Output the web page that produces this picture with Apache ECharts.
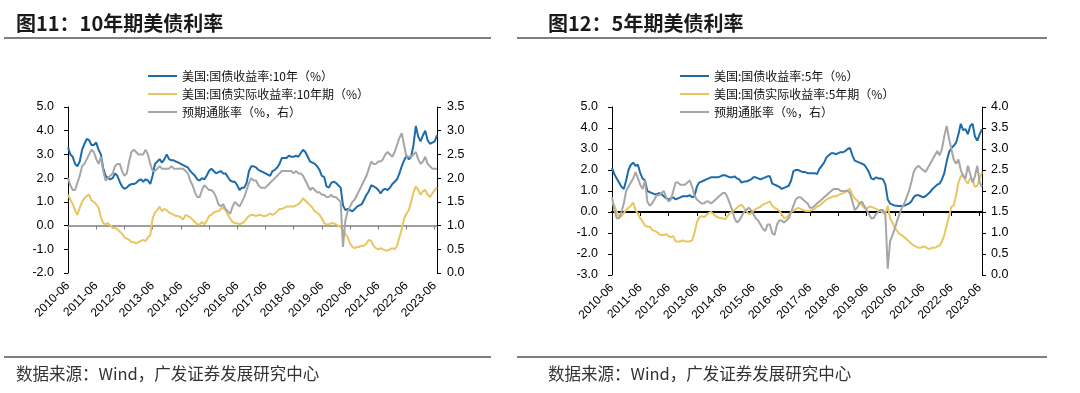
<!DOCTYPE html>
<html><head><meta charset="utf-8">
<script src="https://cdn.jsdelivr.net/npm/echarts@6/dist/echarts.min.js"></script>
<style>html,body{margin:0;padding:0;background:#fff}#c{width:1080px;height:393px}</style>
</head><body><div id="c"></div>
<script>
// monthly categories 2010-06 .. 2023-07
const months = [];
for (let y = 2010, m = 6; !(y === 2023 && m === 8);) { months.push(y + '-' + (m < 10 ? '0' + m : m)); m++; if (m > 12) { m = 1; y++; } }
const xTickLabels = ['2010-06','2011-06','2012-06','2013-06','2014-06','2015-06','2016-06','2017-06','2018-06','2019-06','2020-06','2021-06','2022-06','2023-06'];

// Left chart: 10Y
const us10y = [
3.3,3.0,2.9,2.6,2.5,2.7,3.2,3.45,3.65,3.6,
3.4,3.4,3.5,3.2,3.0,2.4,2.1,2.0,1.95,2.0,
2.2,2.1,1.85,1.65,1.55,1.6,1.7,1.75,1.75,1.8,
1.9,1.95,1.85,1.95,1.9,1.75,2.1,2.6,2.7,2.8,
2.65,2.8,3.0,2.8,2.75,2.75,2.7,2.65,2.6,2.55,
2.5,2.45,2.3,2.2,2.1,1.95,1.9,2.0,1.95,2.1,
2.3,2.4,2.3,2.2,2.25,2.3,2.2,2.2,2.05,1.9,
1.85,1.85,1.7,1.5,1.6,1.6,1.8,2.3,2.5,2.5,
2.45,2.35,2.3,2.25,2.2,2.15,2.1,2.3,2.35,2.45,
2.6,2.85,2.85,2.85,2.95,2.9,2.9,2.95,2.9,3.05,
3.2,3.1,2.9,2.7,2.65,2.6,2.5,2.35,2.1,2.05,
1.65,1.6,1.8,1.85,1.8,1.7,1.6,0.85,0.65,0.7,
0.65,0.6,0.7,0.8,0.85,0.9,1.1,1.3,1.45,1.7,
1.65,1.6,1.5,1.35,1.5,1.55,1.5,1.6,1.75,1.85,
1.95,2.2,2.5,2.75,2.95,2.8,2.9,3.4,4.2,3.75,
3.55,3.8,4.0,3.6,3.45,3.5,3.55,3.8];
const tips10y = [
1.3,1.1,0.9,0.65,0.45,0.75,1.0,1.15,1.25,1.3,
1.05,1.0,0.9,0.75,0.35,0.1,0.05,0.1,0.0,-0.1,
-0.1,-0.15,-0.25,-0.35,-0.5,-0.55,-0.6,-0.7,-0.7,-0.75,
-0.7,-0.65,-0.6,-0.65,-0.5,-0.4,0.3,0.55,0.65,0.8,
0.6,0.7,0.65,0.55,0.5,0.45,0.4,0.4,0.35,0.25,
0.45,0.4,0.35,0.25,0.15,0.05,0.05,0.15,0.05,0.2,
0.4,0.45,0.55,0.6,0.6,0.7,0.75,0.65,0.45,0.3,
0.15,0.1,0.1,0.05,0.1,0.15,0.3,0.4,0.45,0.45,
0.4,0.45,0.45,0.4,0.4,0.45,0.5,0.45,0.5,0.6,
0.7,0.7,0.75,0.8,0.8,0.8,0.8,0.85,0.9,1.0,
1.15,1.05,0.95,0.85,0.75,0.6,0.55,0.45,0.3,0.1,
0.05,0.05,0.1,0.1,0.05,0.0,-0.05,-0.2,-0.35,-0.5,
-0.75,-0.9,-0.95,-0.9,-0.9,-0.85,-0.85,-0.75,-0.6,-0.65,
-0.85,-0.95,-1.0,-0.95,-1.0,-1.05,-1.05,-1.0,-0.95,-1.0,
-0.85,-0.5,-0.15,0.3,0.5,0.65,1.0,1.4,1.65,1.5,
1.3,1.45,1.5,1.3,1.2,1.35,1.5,1.6];
const bei10y = [
2.0,1.85,1.75,1.75,1.9,2.05,2.25,2.3,2.4,2.5,
2.6,2.55,2.4,2.3,2.45,2.15,1.95,2.0,2.05,2.1,
2.25,2.3,2.3,2.15,2.05,2.1,2.35,2.55,2.6,2.55,
2.5,2.5,2.5,2.6,2.5,2.3,2.15,2.15,2.2,2.25,
2.2,2.2,2.2,2.2,2.25,2.2,2.2,2.2,2.2,2.2,
2.15,2.1,1.95,1.85,1.7,1.6,1.6,1.75,1.85,1.8,
1.75,1.75,1.7,1.6,1.45,1.4,1.45,1.35,1.3,1.25,
1.4,1.5,1.45,1.4,1.5,1.6,1.75,1.9,2.0,1.95,
1.95,1.85,1.8,1.8,1.8,1.85,1.9,1.95,2.0,2.05,
2.1,2.15,2.15,2.15,2.15,2.15,2.1,2.15,2.1,2.1,
2.05,1.95,1.85,1.75,1.8,1.75,1.7,1.7,1.65,1.65,
1.6,1.6,1.65,1.6,1.6,1.55,1.5,0.55,1.1,1.3,
1.4,1.5,1.55,1.65,1.75,1.85,1.95,2.05,2.2,2.35,
2.3,2.3,2.35,2.35,2.4,2.5,2.55,2.5,2.45,2.55,
2.7,2.85,2.95,2.7,2.45,2.45,2.45,2.5,2.55,2.4,
2.3,2.35,2.45,2.3,2.25,2.2,2.2,2.2];

// Right chart: 5Y
const us5y = [
2.1,1.8,1.6,1.4,1.2,1.1,1.5,2.0,2.25,2.35,
2.2,2.25,1.85,1.6,1.5,1.0,0.95,0.9,0.85,0.85,
0.9,0.85,0.75,0.65,0.6,0.65,0.7,0.6,0.65,0.7,
0.75,0.75,0.75,0.8,0.7,0.75,1.2,1.4,1.45,1.5,
1.55,1.6,1.65,1.65,1.65,1.65,1.7,1.75,1.75,1.7,
1.65,1.65,1.7,1.6,1.55,1.4,1.45,1.45,1.5,1.55,
1.65,1.65,1.6,1.55,1.6,1.65,1.7,1.7,1.35,1.3,
1.25,1.2,1.1,1.15,1.2,1.25,1.5,1.95,2.0,2.0,
1.95,1.9,1.9,1.85,1.85,1.85,1.85,1.8,2.05,2.2,
2.35,2.6,2.7,2.8,2.8,2.75,2.8,2.85,2.85,2.9,
3.0,3.05,2.7,2.45,2.4,2.35,2.3,2.25,2.1,1.9,
1.6,1.55,1.65,1.6,1.6,1.55,1.3,0.6,0.4,0.35,
0.3,0.3,0.28,0.28,0.3,0.35,0.4,0.5,0.7,0.8,
0.8,0.75,0.7,0.75,0.85,0.95,1.1,1.2,1.3,1.35,
1.55,1.85,2.4,2.85,3.05,3.15,3.3,3.7,4.2,3.9,
3.95,3.7,4.1,4.2,3.6,3.4,3.7,3.95];
const tips5y = [
0.45,0.3,0.0,-0.25,-0.2,-0.05,0.1,0.2,0.3,0.45,
0.1,-0.1,-0.3,-0.45,-0.65,-0.7,-0.7,-0.85,-0.9,-0.95,
-1.05,-1.1,-1.1,-1.05,-1.15,-1.2,-1.15,-1.4,-1.4,-1.4,
-1.35,-1.4,-1.4,-1.4,-1.35,-1.0,-0.5,-0.25,-0.2,-0.25,
-0.15,-0.05,0.0,-0.1,-0.2,-0.25,-0.3,-0.3,-0.35,-0.2,
-0.05,0.0,0.1,0.2,0.3,0.35,0.2,0.05,-0.1,-0.05,
0.05,0.15,0.2,0.25,0.35,0.4,0.45,0.5,0.3,0.2,
0.15,0.05,-0.1,-0.3,-0.25,-0.15,0.0,0.05,0.15,0.2,
0.15,0.1,0.05,0.05,0.05,0.1,0.15,0.25,0.3,0.4,
0.5,0.6,0.65,0.7,0.75,0.75,0.8,0.85,0.9,0.95,
1.05,1.1,0.8,0.65,0.55,0.4,0.35,0.2,0.15,0.25,
0.25,0.2,0.15,0.1,0.05,-0.05,-0.1,0.3,-0.3,-0.5,
-0.75,-0.9,-1.05,-1.1,-1.2,-1.3,-1.4,-1.5,-1.6,-1.65,
-1.7,-1.7,-1.65,-1.65,-1.75,-1.75,-1.7,-1.7,-1.65,-1.6,
-1.4,-1.1,-0.65,-0.2,0.25,0.3,0.8,1.4,1.7,1.8,
1.5,1.35,1.6,1.5,1.2,1.25,1.6,1.9];
const bei5y = [
1.85,1.55,1.35,1.35,1.5,1.7,2.0,2.1,2.2,2.3,
2.45,2.3,2.15,2.05,2.25,1.75,1.65,1.7,1.8,1.9,
1.9,1.95,2.0,1.85,1.75,1.8,2.0,2.2,2.2,2.15,
2.15,2.15,2.2,2.25,2.1,1.9,1.8,1.75,1.7,1.7,
1.75,1.75,1.7,1.75,1.8,1.85,1.9,1.95,1.95,1.85,
1.7,1.55,1.35,1.25,1.3,1.4,1.5,1.55,1.6,1.55,
1.45,1.35,1.3,1.2,1.1,1.05,1.2,1.2,1.0,0.95,
1.2,1.3,1.3,1.25,1.3,1.35,1.5,1.65,1.8,1.85,
1.85,1.8,1.75,1.7,1.6,1.6,1.65,1.7,1.75,1.8,
1.85,1.9,1.95,2.0,2.05,2.05,2.05,2.0,2.0,2.0,
2.0,1.95,1.75,1.55,1.6,1.7,1.75,1.65,1.55,1.45,
1.35,1.35,1.45,1.5,1.55,1.55,1.45,0.15,0.8,0.95,
1.1,1.3,1.45,1.6,1.7,1.85,2.0,2.2,2.45,2.55,
2.6,2.55,2.5,2.45,2.55,2.65,2.75,2.85,2.95,2.85,
3.0,3.3,3.55,3.25,3.0,2.75,2.65,2.75,2.5,2.35,
2.3,2.6,2.4,2.2,2.35,2.6,2.2,2.1];

const names10 = ['美国:国债收益率:10年（%）', '美国:国债实际收益率:10年期（%）', '预期通胀率（%，右）'];
const names5 = ['美国:国债收益率:5年（%）', '美国:国债实际收益率:5年期（%）', '预期通胀率（%，右）'];

const BLUE = '#1F6BAA', YELLOW = '#E9C563', GRAY = '#A6A6A6';
const NUM = '"Liberation Sans", Arial, sans-serif';
const CJK = '"Noto Sans CJK SC", "Liberation Sans", sans-serif';
const isTick = (i, v) => xTickLabels.indexOf(v) >= 0;

function xPair(g, zeroColor, zeroWidth, yIdx) {
  return [
    { gridIndex: g, type: 'category', data: months, boundaryGap: false,
      axisLine: { show: false, onZero: false }, axisTick: { show: false },
      axisLabel: { interval: isTick, rotate: 45, margin: 11, fontSize: 12, fontFamily: NUM, color: '#000' },
      splitLine: { show: false } },
    { gridIndex: g, type: 'category', data: months, boundaryGap: false, position: 'bottom',
      axisLine: { show: true, onZero: true, onZeroAxisIndex: yIdx, lineStyle: { color: zeroColor, width: zeroWidth } },
      axisTick: { show: true, interval: isTick, length: 4, lineStyle: { color: zeroColor, width: 1 } },
      axisLabel: { show: false }, splitLine: { show: false } }
  ];
}
function yAx(g, pos, min, max, step, margin) {
  return { gridIndex: g, type: 'value', position: pos, min: min, max: max, interval: step,
    axisLine: { show: true, onZero: false, lineStyle: { color: '#000', width: 1 } },
    axisTick: { show: true, length: 4, lineStyle: { color: '#000' } },
    axisLabel: { fontSize: 12.5, fontFamily: NUM, color: '#000', margin: margin, formatter: v => v.toFixed(1) },
    splitLine: { show: false } };
}
function ser(name, data, color, xi, yi) {
  return { type: 'line', name: name, data: data, xAxisIndex: xi, yAxisIndex: yi, symbol: 'none',
    lineStyle: { color: color, width: 2 }, itemStyle: { color: color }, animation: false };
}
function legend(left, names) {
  return { left: left, top: 65, orient: 'vertical', icon: 'rect', itemWidth: 29, itemHeight: 2, itemGap: 6,
    data: names, selectedMode: false,
    textStyle: { fontSize: 12, fontFamily: CJK, color: '#111', lineHeight: 12 } };
}

const chart = echarts.init(document.getElementById('c'), null, { renderer: 'canvas' });
chart.setOption({
  animation: false,
  backgroundColor: '#fff',
  grid: [
    { left: 68, top: 107, width: 369, height: 166 },
    { left: 612, top: 107, width: 370, height: 168 }
  ],
  legend: [legend(143, names10), legend(675, names5)],
  xAxis: [].concat(xPair(0, '#808080', 1.5, 0), xPair(1, '#000', 2, 2)),
  yAxis: [
    yAx(0, 'left', -2, 5, 1, 14), yAx(0, 'right', 0, 3.5, 0.5, 10),
    yAx(1, 'left', -3, 5, 1, 14), yAx(1, 'right', 0, 4, 0.5, 9)
  ],
  series: [
    ser(names10[0], us10y, BLUE, 0, 0),
    ser(names10[1], tips10y, YELLOW, 0, 0),
    ser(names10[2], bei10y, GRAY, 0, 1),
    ser(names5[0], us5y, BLUE, 2, 2),
    ser(names5[1], tips5y, YELLOW, 2, 2),
    ser(names5[2], bei5y, GRAY, 2, 3)
  ],
  graphic: [
    { type: 'text', style: { x: 16, y: 23, text: '图11：10年期美债利率', font: 'bold 20px "Noto Sans CJK SC", sans-serif', fill: '#1a1a1a', verticalAlign: 'middle' } },
    { type: 'text', style: { x: 548, y: 23, text: '图12：5年期美债利率', font: 'bold 20px "Noto Sans CJK SC", sans-serif', fill: '#1a1a1a', verticalAlign: 'middle' } },
    { type: 'line', shape: { x1: 4, y1: 38, x2: 491, y2: 38 }, style: { stroke: '#555', lineWidth: 1.5 } },
    { type: 'line', shape: { x1: 517, y1: 38, x2: 1047, y2: 38 }, style: { stroke: '#555', lineWidth: 1.5 } },
    { type: 'line', shape: { x1: 4, y1: 357, x2: 491, y2: 357 }, style: { stroke: '#555', lineWidth: 1.5 } },
    { type: 'line', shape: { x1: 517, y1: 357, x2: 1047, y2: 357 }, style: { stroke: '#555', lineWidth: 1.5 } },
    { type: 'text', style: { x: 16, y: 374, text: '数据来源：Wind，广发证券发展研究中心', font: '16.5px "Noto Sans CJK SC", sans-serif', fill: '#333', verticalAlign: 'middle' } },
    { type: 'text', style: { x: 548, y: 374, text: '数据来源：Wind，广发证券发展研究中心', font: '16.5px "Noto Sans CJK SC", sans-serif', fill: '#333', verticalAlign: 'middle' } }
  ]
});
</script></body></html>
